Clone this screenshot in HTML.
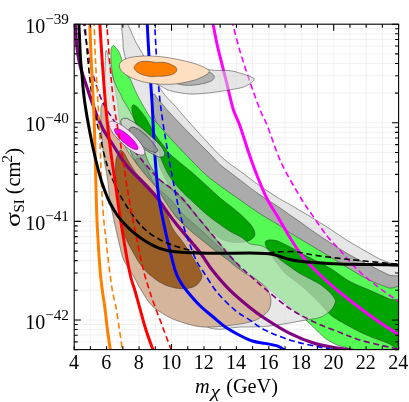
<!DOCTYPE html><html><head><meta charset="utf-8"><style>html,body{margin:0;padding:0;background:#fff}svg{display:block}text{font-family:"Liberation Serif",serif;fill:#000}</style></head><body>
<svg width="409" height="402" viewBox="0 0 409 402">
<rect width="409" height="402" fill="#fff"/>
<defs><clipPath id="c"><rect x="74.20" y="24.20" width="324.40" height="325.40"/></clipPath></defs>
<path d="M90.42,24.20 V349.60 M106.64,24.20 V349.60 M122.86,24.20 V349.60 M139.08,24.20 V349.60 M155.30,24.20 V349.60 M171.52,24.20 V349.60 M187.74,24.20 V349.60 M203.96,24.20 V349.60 M220.18,24.20 V349.60 M236.40,24.20 V349.60 M252.62,24.20 V349.60 M268.84,24.20 V349.60 M285.06,24.20 V349.60 M301.28,24.20 V349.60 M317.50,24.20 V349.60 M333.72,24.20 V349.60 M349.94,24.20 V349.60 M366.16,24.20 V349.60 M382.38,24.20 V349.60 M74.20,122.80 H398.60 M74.20,93.12 H398.60 M74.20,75.76 H398.60 M74.20,63.44 H398.60 M74.20,53.88 H398.60 M74.20,46.07 H398.60 M74.20,39.47 H398.60 M74.20,33.76 H398.60 M74.20,28.71 H398.60 M74.20,221.40 H398.60 M74.20,191.72 H398.60 M74.20,174.36 H398.60 M74.20,162.04 H398.60 M74.20,152.48 H398.60 M74.20,144.67 H398.60 M74.20,138.07 H398.60 M74.20,132.36 H398.60 M74.20,127.31 H398.60 M74.20,320.00 H398.60 M74.20,290.32 H398.60 M74.20,272.96 H398.60 M74.20,260.64 H398.60 M74.20,251.08 H398.60 M74.20,243.27 H398.60 M74.20,236.67 H398.60 M74.20,230.96 H398.60 M74.20,225.91 H398.60 M74.20,341.87 H398.60 M74.20,335.27 H398.60 M74.20,329.56 H398.60 M74.20,324.51 H398.60" stroke="#eeeeee" stroke-width="0.8" fill="none"/>
<g clip-path="url(#c)">
<path d="M121.50,18.00 C122.27,15.33 125.12,20.00 127.50,24.00 C129.88,28.00 133.08,36.67 135.80,42.00 C138.52,47.33 141.27,51.00 143.80,56.00 C146.33,61.00 148.57,67.10 151.00,72.00 C153.43,76.90 156.08,81.57 158.40,85.40 C160.72,89.23 161.98,91.42 164.90,95.00 C167.82,98.58 171.75,102.25 175.90,106.90 C180.05,111.55 184.17,116.58 189.80,122.90 C195.43,129.22 204.67,139.37 209.70,144.80 C214.73,150.23 216.68,152.35 220.00,155.50 C223.32,158.65 226.28,161.13 229.60,163.70 C232.92,166.27 234.87,167.22 239.90,170.90 C244.93,174.58 253.17,181.15 259.80,185.80 C266.43,190.45 274.67,195.68 279.70,198.80 C284.73,201.92 286.68,202.58 290.00,204.50 C293.32,206.42 296.28,208.33 299.60,210.30 C302.92,212.27 304.87,213.22 309.90,216.30 C314.93,219.38 323.62,224.80 329.80,228.80 C335.98,232.80 340.50,236.27 347.00,240.30 C353.50,244.33 363.35,249.88 368.80,253.00 C374.25,256.12 376.38,257.42 379.70,259.00 C383.02,260.58 385.53,261.42 388.70,262.50 C391.87,263.58 395.98,264.75 398.70,265.50 C401.42,266.25 403.95,257.92 405.00,267.00 C406.05,276.08 422.50,316.17 405.00,320.00 C387.50,323.83 334.17,310.00 300.00,290.00 C265.83,270.00 226.67,230.00 200.00,200.00 C173.33,170.00 152.52,134.00 140.00,110.00 C127.48,86.00 127.75,67.67 124.90,56.00 C122.05,44.33 123.47,46.33 122.90,40.00 C122.33,33.67 120.73,20.67 121.50,18.00Z" fill="#e6e6e6" stroke="#333" stroke-width="0.5"/>
<path d="M153.50,94.00 C154.33,92.83 155.60,96.42 157.00,98.00 C158.40,99.58 159.75,101.02 161.90,103.50 C164.05,105.98 165.25,107.85 169.90,112.90 C174.55,117.95 183.17,127.00 189.80,133.80 C196.43,140.60 204.67,148.58 209.70,153.70 C214.73,158.82 216.68,161.45 220.00,164.50 C223.32,167.55 226.28,169.43 229.60,172.00 C232.92,174.57 234.87,176.10 239.90,179.90 C244.93,183.70 253.17,190.17 259.80,194.80 C266.43,199.43 274.67,204.33 279.70,207.70 C284.73,211.07 286.68,212.70 290.00,215.00 C293.32,217.30 296.28,219.17 299.60,221.50 C302.92,223.83 304.87,225.50 309.90,229.00 C314.93,232.50 323.28,238.25 329.80,242.50 C336.32,246.75 342.47,250.75 349.00,254.50 C355.53,258.25 362.38,261.62 369.00,265.00 C375.62,268.38 382.70,272.05 388.70,274.80 C394.70,277.55 402.28,272.30 405.00,281.50 C407.72,290.70 422.50,326.92 405.00,330.00 C387.50,333.08 334.17,321.67 300.00,300.00 C265.83,278.33 223.33,228.33 200.00,200.00 C176.67,171.67 168.00,145.83 160.00,130.00 C152.00,114.17 153.08,111.00 152.00,105.00 C150.92,99.00 152.67,95.17 153.50,94.00Z" fill="#ababab" stroke="#333" stroke-width="0.5"/>
<path d="M112.90,45.50 C113.75,44.87 114.83,46.62 116.00,48.00 C117.17,49.38 118.25,49.52 119.90,53.80 C121.55,58.08 124.22,69.58 125.90,73.70 C127.58,77.82 128.52,75.83 130.00,78.50 C131.48,81.17 133.17,86.18 134.80,89.70 C136.43,93.22 137.27,95.05 139.80,99.60 C142.33,104.15 147.30,113.27 150.00,117.00 C152.70,120.73 152.68,118.53 156.00,122.00 C159.32,125.47 164.27,131.68 169.90,137.80 C175.53,143.92 183.83,152.57 189.80,158.70 C195.77,164.83 200.67,170.08 205.70,174.60 C210.73,179.12 214.30,181.60 220.00,185.80 C225.70,190.00 233.27,195.15 239.90,199.80 C246.53,204.45 253.17,209.40 259.80,213.70 C266.43,218.00 274.67,222.42 279.70,225.60 C284.73,228.78 284.97,229.60 290.00,232.80 C295.03,236.00 303.27,240.82 309.90,244.80 C316.53,248.78 323.23,252.72 329.80,256.70 C336.37,260.68 342.80,264.85 349.30,268.70 C355.80,272.55 362.23,276.62 368.80,279.80 C375.37,282.98 382.67,285.68 388.70,287.80 C394.73,289.92 402.28,280.47 405.00,292.50 C407.72,304.53 410.83,349.08 405.00,360.00 C399.17,370.92 379.50,359.95 370.00,358.00 C360.50,356.05 353.52,350.48 348.00,348.30 C342.48,346.12 340.62,346.50 336.90,344.90 C333.18,343.30 328.68,340.75 325.70,338.70 C322.72,336.65 322.28,335.70 319.00,332.60 C315.72,329.50 310.00,323.65 306.00,320.10 C302.00,316.55 300.50,315.88 295.00,311.30 C289.50,306.72 279.97,298.35 273.00,292.60 C266.03,286.85 259.53,281.23 253.20,276.80 C246.87,272.37 242.20,270.13 235.00,266.00 C227.80,261.87 219.17,258.83 210.00,252.00 C200.83,245.17 190.00,235.33 180.00,225.00 C170.00,214.67 159.17,202.50 150.00,190.00 C140.83,177.50 130.52,165.07 125.00,150.00 C119.48,134.93 119.08,112.97 116.90,99.60 C114.72,86.23 112.90,77.77 111.90,69.80 C110.90,61.83 110.73,55.85 110.90,51.80 C111.07,47.75 112.05,46.13 112.90,45.50Z" fill="#55fa55" stroke="#333" stroke-width="0.5"/>
<path d="M132.70,105.20 C133.22,104.45 134.13,105.08 135.00,105.50 C135.87,105.92 136.17,105.72 137.90,107.70 C139.63,109.68 143.17,114.05 145.40,117.40 C147.63,120.75 149.57,124.82 151.30,127.80 C153.03,130.78 153.55,132.07 155.80,135.30 C158.05,138.53 162.32,143.97 164.80,147.20 C167.28,150.43 166.53,150.80 170.70,154.70 C174.87,158.60 185.28,166.78 189.80,170.60 C194.32,174.42 192.77,173.07 197.80,177.60 C202.83,182.13 214.63,193.12 220.00,197.80 C225.37,202.48 226.68,203.05 230.00,205.70 C233.32,208.35 236.58,210.72 239.90,213.70 C243.22,216.68 247.58,220.95 249.90,223.60 C252.22,226.25 252.97,227.78 253.80,229.60 C254.63,231.42 255.03,233.10 254.90,234.50 C254.77,235.90 254.32,236.83 253.00,238.00 C251.68,239.17 250.03,240.75 247.00,241.50 C243.97,242.25 239.15,242.93 234.80,242.50 C230.45,242.07 225.03,240.98 220.90,238.90 C216.77,236.82 213.52,233.15 210.00,230.00 C206.48,226.85 202.32,222.67 199.80,220.00 C197.28,217.33 197.80,217.08 194.90,214.00 C192.00,210.92 186.22,205.33 182.40,201.50 C178.58,197.67 174.73,194.58 172.00,191.00 C169.27,187.42 168.00,183.83 166.00,180.00 C164.00,176.17 161.83,172.67 160.00,168.00 C158.17,163.33 157.00,156.67 155.00,152.00 C153.00,147.33 150.50,143.50 148.00,140.00 C145.50,136.50 142.18,134.27 140.00,131.00 C137.82,127.73 136.25,123.90 134.90,120.40 C133.55,116.90 132.27,112.53 131.90,110.00 C131.53,107.47 132.18,105.95 132.70,105.20Z" fill="#00a500" stroke="#333" stroke-width="0.5"/>
<path d="M265.20,242.60 C265.32,240.93 267.10,240.38 268.70,240.00 C270.30,239.62 272.73,239.90 274.80,240.30 C276.87,240.70 277.98,241.00 281.10,242.40 C284.22,243.80 289.58,246.60 293.50,248.70 C297.42,250.80 298.55,251.78 304.60,255.00 C310.65,258.22 322.42,263.67 329.80,268.00 C337.18,272.33 342.40,277.37 348.90,281.00 C355.40,284.63 362.17,286.85 368.80,289.80 C375.43,292.75 382.67,296.17 388.70,298.70 C394.73,301.23 402.28,296.78 405.00,305.00 C407.72,313.22 408.13,341.75 405.00,348.00 C401.87,354.25 393.07,344.87 386.20,342.50 C379.33,340.13 371.27,337.22 363.80,333.80 C356.33,330.38 347.00,325.22 341.40,322.00 C335.80,318.78 333.93,317.77 330.20,314.50 C326.47,311.23 323.27,306.72 319.00,302.40 C314.73,298.08 308.65,292.22 304.60,288.60 C300.55,284.98 298.02,283.35 294.70,280.70 C291.38,278.05 287.82,275.82 284.70,272.70 C281.58,269.58 278.78,265.78 276.00,262.00 C273.22,258.22 269.80,253.23 268.00,250.00 C266.20,246.77 265.08,244.27 265.20,242.60Z" fill="#00a500" stroke="#333" stroke-width="0.5"/>
<path d="M106.00,50.50 C106.67,48.87 107.92,55.75 109.00,60.00 C110.08,64.25 111.08,71.23 112.50,76.00 C113.92,80.77 116.08,85.43 117.50,88.60 C118.92,91.77 120.08,93.10 121.00,95.00 C121.92,96.90 121.92,98.00 123.00,100.00 C124.08,102.00 126.00,104.50 127.50,107.00 C129.00,109.50 130.58,112.17 132.00,115.00 C133.42,117.83 134.33,121.00 136.00,124.00 C137.67,127.00 139.67,130.67 142.00,133.00 C144.33,135.33 147.60,136.50 150.00,138.00 C152.40,139.50 154.73,139.00 156.40,142.00 C158.07,145.00 158.32,151.17 160.00,156.00 C161.68,160.83 164.42,166.92 166.50,171.00 C168.58,175.08 170.08,177.25 172.50,180.50 C174.92,183.75 177.42,186.75 181.00,190.50 C184.58,194.25 189.62,198.92 194.00,203.00 C198.38,207.08 203.00,211.45 207.30,215.00 C211.60,218.55 216.05,221.60 219.80,224.30 C223.55,227.00 226.30,229.08 229.80,231.20 C233.30,233.32 238.18,235.45 240.80,237.00 C243.42,238.55 243.97,239.37 245.50,240.50 C247.03,241.63 247.58,242.97 250.00,243.80 C252.42,244.63 257.33,244.80 260.00,245.50 C262.67,246.20 263.93,246.75 266.00,248.00 C268.07,249.25 269.88,250.92 272.40,253.00 C274.92,255.08 278.00,258.08 281.10,260.50 C284.20,262.92 287.88,265.33 291.00,267.50 C294.12,269.67 297.07,271.83 299.80,273.50 C302.53,275.17 304.05,275.70 307.40,277.50 C310.75,279.30 316.17,281.82 319.90,284.30 C323.63,286.78 327.48,290.20 329.80,292.40 C332.12,294.60 332.87,296.07 333.80,297.50 C334.73,298.93 335.53,299.33 335.40,301.00 C335.27,302.67 334.40,305.42 333.00,307.50 C331.60,309.58 329.33,311.78 327.00,313.50 C324.67,315.22 322.50,316.72 319.00,317.80 C315.50,318.88 311.83,318.98 306.00,320.00 C300.17,321.02 291.33,322.78 284.00,323.90 C276.67,325.02 269.33,326.18 262.00,326.70 C254.67,327.22 247.83,326.62 240.00,327.00 C232.17,327.38 221.67,330.17 215.00,329.00 C208.33,327.83 207.50,328.17 200.00,320.00 C192.50,311.83 180.00,293.33 170.00,280.00 C160.00,266.67 148.33,253.33 140.00,240.00 C131.67,226.67 125.33,215.00 120.00,200.00 C114.67,185.00 110.58,166.67 108.00,150.00 C105.42,133.33 105.00,113.37 104.50,100.00 C104.00,86.63 104.75,78.05 105.00,69.80 C105.25,61.55 105.33,52.13 106.00,50.50Z" fill="#dcdcdc" stroke="#333" stroke-width="0.5" fill-opacity="0.65"/>
<path d="M140.00,146.00 C142.28,146.00 142.27,147.27 143.70,150.00 C145.13,152.73 146.55,158.25 148.60,162.40 C150.65,166.55 154.10,171.97 156.00,174.90 C157.90,177.83 156.02,176.50 160.00,180.00 C163.98,183.50 173.27,189.27 179.90,195.90 C186.53,202.53 193.17,211.83 199.80,219.80 C206.43,227.77 214.73,237.73 219.70,243.70 C224.67,249.67 226.22,251.72 229.60,255.60 C232.98,259.48 237.18,263.85 240.00,267.00 C242.82,270.15 247.37,274.00 246.50,274.50 C245.63,275.00 240.07,273.08 234.80,270.00 C229.53,266.92 221.53,261.67 214.90,256.00 C208.27,250.33 202.48,243.67 195.00,236.00 C187.52,228.33 177.50,218.50 170.00,210.00 C162.50,201.50 156.67,195.00 150.00,185.00 C143.33,175.00 131.67,156.50 130.00,150.00 C128.33,143.50 137.72,146.00 140.00,146.00Z" fill="#606060" stroke="#333" stroke-width="0.5" fill-opacity="0.4"/>
<path d="M138.00,158.00 C139.50,158.00 142.17,160.58 145.00,165.00 C147.83,169.42 150.83,178.83 155.00,184.50 C159.17,190.17 165.22,193.92 170.00,199.00 C174.78,204.08 179.97,211.08 183.70,215.00 C187.43,218.92 188.87,219.38 192.40,222.50 C195.93,225.62 200.75,229.87 204.90,233.70 C209.05,237.53 213.15,241.78 217.30,245.50 C221.45,249.22 226.02,252.25 229.80,256.00 C233.58,259.75 239.97,266.33 240.00,268.00 C240.03,269.67 234.17,268.00 230.00,266.00 C225.83,264.00 220.00,259.33 215.00,256.00 C210.00,252.67 205.00,250.00 200.00,246.00 C195.00,242.00 190.00,237.50 185.00,232.00 C180.00,226.50 175.83,220.33 170.00,213.00 C164.17,205.67 155.67,196.00 150.00,188.00 C144.33,180.00 138.00,170.00 136.00,165.00 C134.00,160.00 136.50,158.00 138.00,158.00Z" fill="#505050" stroke="#333" stroke-width="0.3" fill-opacity="0.25"/>
<path d="M103.00,103.00 C103.67,102.33 104.42,102.00 105.00,104.00 C105.58,106.00 106.00,111.67 106.50,115.00 C107.00,118.33 107.08,121.83 108.00,124.00 C108.92,126.17 110.00,126.00 112.00,128.00 C114.00,130.00 117.50,132.33 120.00,136.00 C122.50,139.67 125.17,146.67 127.00,150.00 C128.83,153.33 129.57,153.93 131.00,156.00 C132.43,158.07 133.18,159.25 135.60,162.40 C138.02,165.55 142.08,170.75 145.50,174.90 C148.92,179.05 153.18,183.45 156.10,187.30 C159.02,191.15 160.68,194.47 163.00,198.00 C165.32,201.53 168.00,205.58 170.00,208.50 C172.00,211.42 173.33,213.42 175.00,215.50 C176.67,217.58 177.10,218.18 180.00,221.00 C182.90,223.82 188.25,228.83 192.40,232.40 C196.55,235.97 200.75,239.08 204.90,242.40 C209.05,245.72 213.78,249.62 217.30,252.30 C220.82,254.98 223.08,256.27 226.00,258.50 C228.92,260.73 231.52,263.17 234.80,265.70 C238.08,268.23 242.63,271.78 245.70,273.70 C248.77,275.62 249.75,274.78 253.20,277.20 C256.65,279.62 263.47,284.53 266.40,288.20 C269.33,291.87 270.43,295.53 270.80,299.20 C271.17,302.87 270.43,307.08 268.60,310.20 C266.77,313.32 263.10,315.88 259.80,317.90 C256.50,319.92 254.67,320.95 248.80,322.30 C242.93,323.65 232.77,325.27 224.60,326.00 C216.43,326.73 208.08,327.73 199.80,326.70 C191.52,325.67 181.62,322.33 174.90,319.80 C168.18,317.27 163.72,314.30 159.50,311.50 C155.28,308.70 152.92,307.00 149.60,303.00 C146.28,299.00 142.57,292.50 139.60,287.50 C136.63,282.50 134.45,277.58 131.80,273.00 C129.15,268.42 125.70,264.50 123.70,260.00 C121.70,255.50 121.28,252.00 119.80,246.00 C118.32,240.00 116.47,231.67 114.80,224.00 C113.13,216.33 110.97,207.33 109.80,200.00 C108.63,192.67 108.60,185.83 107.80,180.00 C107.00,174.17 105.80,170.00 105.00,165.00 C104.20,160.00 103.67,156.67 103.00,150.00 C102.33,143.33 101.33,132.00 101.00,125.00 C100.67,118.00 100.67,111.67 101.00,108.00 C101.33,104.33 102.33,103.67 103.00,103.00Z" fill="#d5b59b" stroke="#333" stroke-width="0.5"/>
<path d="M121.00,150.30 C121.83,150.55 122.67,151.05 124.00,153.00 C125.33,154.95 127.33,159.17 129.00,162.00 C130.67,164.83 132.60,167.95 134.00,170.00 C135.40,172.05 134.75,171.42 137.40,174.30 C140.05,177.18 146.17,183.05 149.90,187.30 C153.63,191.55 157.12,195.85 159.80,199.80 C162.48,203.75 163.90,206.30 166.00,211.00 C168.10,215.70 169.60,222.85 172.40,228.00 C175.20,233.15 179.32,236.83 182.80,241.90 C186.28,246.97 190.32,253.42 193.30,258.40 C196.28,263.38 199.30,268.53 200.70,271.80 C202.10,275.07 202.43,275.77 201.70,278.00 C200.97,280.23 198.70,283.45 196.30,285.20 C193.90,286.95 190.88,288.05 187.30,288.50 C183.72,288.95 178.97,288.72 174.80,287.90 C170.63,287.08 166.45,285.77 162.30,283.60 C158.15,281.43 153.00,277.38 149.90,274.90 C146.80,272.42 145.78,271.18 143.70,268.70 C141.62,266.22 139.38,263.12 137.40,260.00 C135.42,256.88 133.62,253.33 131.80,250.00 C129.98,246.67 128.02,243.37 126.50,240.00 C124.98,236.63 123.87,233.98 122.70,229.80 C121.53,225.62 120.45,220.70 119.50,214.90 C118.55,209.10 117.67,202.48 117.00,195.00 C116.33,187.52 115.67,175.83 115.50,170.00 C115.33,164.17 115.67,162.50 116.00,160.00 C116.33,157.50 117.00,156.42 117.50,155.00 C118.00,153.58 118.42,152.28 119.00,151.50 C119.58,150.72 120.17,150.05 121.00,150.30Z" fill="#9b5f28" stroke="#333" stroke-width="0.5"/>
<path d="M83.00,20.00 C83.67,24.17 85.45,36.30 87.00,45.00 C88.55,53.70 89.72,62.70 92.30,72.20 C94.88,81.70 98.97,94.05 102.50,102.00 C106.03,109.95 109.75,113.90 113.50,119.90 C117.25,125.90 120.65,131.78 125.00,138.00 C129.35,144.22 134.68,151.10 139.60,157.20 C144.52,163.30 151.10,170.80 154.50,174.60 C157.90,178.40 155.77,176.45 160.00,180.00 C164.23,183.55 173.27,189.27 179.90,195.90 C186.53,202.53 193.17,211.83 199.80,219.80 C206.43,227.77 214.73,237.73 219.70,243.70 C224.67,249.67 225.47,251.13 229.60,255.60 C233.73,260.07 238.62,264.98 244.50,270.50 C250.38,276.02 257.35,282.35 264.90,288.70 C272.45,295.05 281.52,303.02 289.80,308.60 C298.08,314.18 306.32,318.27 314.60,322.20 C322.88,326.13 332.13,329.28 339.50,332.20 C346.87,335.12 351.45,337.42 358.80,339.70 C366.15,341.98 376.40,344.22 383.60,345.90 C390.80,347.58 398.93,349.15 402.00,349.80" fill="none" stroke="#800080" stroke-width="1.6" stroke-linejoin="round" stroke-dasharray="6 3.5"/>
<path d="M75.00,20.00 C75.22,23.33 75.80,34.17 76.30,40.00 C76.80,45.83 77.30,50.50 78.00,55.00 C78.70,59.50 79.58,63.33 80.50,67.00 C81.42,70.67 82.38,73.50 83.50,77.00 C84.62,80.50 85.98,84.33 87.20,88.00 C88.42,91.67 89.58,95.50 90.80,99.00 C92.02,102.50 93.37,105.93 94.50,109.00 C95.63,112.07 96.10,113.90 97.60,117.40 C99.10,120.90 100.93,125.40 103.50,130.00 C106.07,134.60 110.25,140.67 113.00,145.00 C115.75,149.33 118.00,152.92 120.00,156.00 C122.00,159.08 123.17,161.08 125.00,163.50 C126.83,165.92 128.93,168.25 131.00,170.50 C133.07,172.75 134.25,173.78 137.40,177.00 C140.55,180.22 146.37,186.00 149.90,189.80 C153.43,193.60 154.43,194.38 158.60,199.80 C162.77,205.22 168.03,213.57 174.90,222.30 C181.77,231.03 193.58,244.25 199.80,252.20 C206.02,260.15 207.23,263.72 212.20,270.00 C217.17,276.28 223.38,283.68 229.60,289.90 C235.82,296.12 243.62,302.53 249.50,307.30 C255.38,312.07 258.18,314.15 264.90,318.50 C271.62,322.85 281.52,329.25 289.80,333.40 C298.08,337.55 306.32,340.90 314.60,343.40 C322.88,345.90 331.93,347.05 339.50,348.40 C347.07,349.75 356.58,350.98 360.00,351.50" fill="none" stroke="#800080" stroke-width="3.2" stroke-linejoin="round"/>
<path d="M154.50,20.00 C154.92,27.50 156.00,50.83 157.00,65.00 C158.00,79.17 158.77,90.87 160.50,105.00 C162.23,119.13 164.90,135.13 167.40,149.80 C169.90,164.47 173.02,180.92 175.50,193.00 C177.98,205.08 179.08,211.60 182.30,222.30 C185.52,233.00 191.27,248.92 194.80,257.20 C198.33,265.48 199.77,266.13 203.50,272.00 C207.23,277.87 212.02,286.10 217.20,292.40 C222.38,298.70 229.22,305.23 234.60,309.80 C239.98,314.37 244.45,316.43 249.50,319.80 C254.55,323.17 258.18,326.63 264.90,330.00 C271.62,333.37 281.52,337.33 289.80,340.00 C298.08,342.67 306.23,344.17 314.60,346.00 C322.97,347.83 335.77,350.17 340.00,351.00" fill="none" stroke="#0000ff" stroke-width="1.6" stroke-linejoin="round" stroke-dasharray="6 3.5"/>
<path d="M147.00,20.00 C147.42,27.50 148.63,50.83 149.50,65.00 C150.37,79.17 151.37,90.83 152.20,105.00 C153.03,119.17 153.45,135.00 154.50,150.00 C155.55,165.00 157.08,183.33 158.50,195.00 C159.92,206.67 161.52,212.53 163.00,220.00 C164.48,227.47 165.42,231.53 167.40,239.80 C169.38,248.07 172.72,262.57 174.90,269.60 C177.08,276.63 178.43,278.35 180.50,282.00 C182.57,285.65 184.08,287.58 187.30,291.50 C190.52,295.42 195.68,301.42 199.80,305.50 C203.92,309.58 207.87,312.50 212.00,316.00 C216.13,319.50 219.93,323.25 224.60,326.50 C229.27,329.75 235.37,333.08 240.00,335.50 C244.63,337.92 248.25,339.68 252.40,341.00 C256.55,342.32 260.75,342.58 264.90,343.40 C269.05,344.22 273.78,344.63 277.30,345.90 C280.82,347.17 284.55,350.15 286.00,351.00" fill="none" stroke="#0000ff" stroke-width="3.0" stroke-linejoin="round"/>
<path d="M231.80,20.00 C233.10,24.97 236.65,39.72 239.60,49.80 C242.55,59.88 246.12,70.55 249.50,80.50 C252.88,90.45 256.92,101.92 259.90,109.50 C262.88,117.08 263.88,117.22 267.40,126.00 C270.92,134.78 275.73,150.70 281.00,162.20 C286.27,173.70 293.82,186.22 299.00,195.00 C304.18,203.78 307.42,208.07 312.10,214.90 C316.78,221.73 322.53,230.20 327.10,236.00 C331.67,241.80 334.22,243.87 339.50,249.70 C344.78,255.53 351.45,264.10 358.80,271.00 C366.15,277.90 376.40,285.68 383.60,291.10 C390.80,296.52 398.93,301.43 402.00,303.50" fill="none" stroke="#ff00ff" stroke-width="1.6" stroke-linejoin="round" stroke-dasharray="6 3.5"/>
<path d="M212.30,20.00 C213.08,24.00 215.37,36.55 217.00,44.00 C218.63,51.45 220.42,57.93 222.10,64.70 C223.78,71.47 225.23,77.13 227.10,84.60 C228.97,92.07 231.15,102.60 233.30,109.50 C235.45,116.40 237.30,118.42 240.00,126.00 C242.70,133.58 246.50,146.33 249.50,155.00 C252.50,163.67 255.02,170.58 258.00,178.00 C260.98,185.42 264.18,193.17 267.40,199.50 C270.62,205.83 273.57,209.70 277.30,216.00 C281.03,222.30 285.65,230.65 289.80,237.30 C293.95,243.95 297.83,250.28 302.20,255.90 C306.57,261.52 310.72,265.75 316.00,271.00 C321.28,276.25 326.77,281.35 333.90,287.40 C341.03,293.45 350.52,301.03 358.80,307.30 C367.08,313.57 376.40,320.13 383.60,325.00 C390.80,329.87 398.93,334.58 402.00,336.50" fill="none" stroke="#ff00ff" stroke-width="3.0" stroke-linejoin="round"/>
<path d="M135.00,70.00 C135.83,67.67 143.33,65.17 150.00,64.00 C156.67,62.83 165.25,62.05 175.00,63.00 C184.75,63.95 199.33,68.42 208.50,69.70 C217.67,70.98 224.42,70.03 230.00,70.70 C235.58,71.37 238.67,72.73 242.00,73.70 C245.33,74.67 247.95,75.57 250.00,76.50 C252.05,77.43 254.30,78.10 254.30,79.30 C254.30,80.50 252.05,82.33 250.00,83.70 C247.95,85.07 245.33,86.48 242.00,87.50 C238.67,88.52 235.38,88.92 230.00,89.80 C224.62,90.68 216.40,92.10 209.70,92.80 C203.00,93.50 196.43,94.37 189.80,94.00 C183.17,93.63 174.87,91.98 169.90,90.60 C164.93,89.22 164.15,87.80 160.00,85.70 C155.85,83.60 149.17,80.62 145.00,78.00 C140.83,75.38 134.17,72.33 135.00,70.00Z" fill="#d0d0d0" stroke="#333" stroke-width="0.5" fill-opacity="0.55"/>
<path d="M150.00,72.00 C151.67,70.17 162.50,68.50 170.00,68.00 C177.50,67.50 188.33,68.25 195.00,69.00 C201.67,69.75 206.78,71.13 210.00,72.50 C213.22,73.87 214.35,75.67 214.30,77.20 C214.25,78.73 212.78,80.42 209.70,81.70 C206.62,82.98 199.92,84.32 195.80,84.90 C191.68,85.48 187.98,85.37 185.00,85.20 C182.02,85.03 182.07,84.93 177.90,83.90 C173.73,82.87 164.65,80.98 160.00,79.00 C155.35,77.02 148.33,73.83 150.00,72.00Z" fill="#808080" stroke="#333" stroke-width="0.5" fill-opacity="0.5"/>
<path d="M119.30,66.00 C119.13,64.08 120.22,62.42 122.00,61.00 C123.78,59.58 127.03,58.28 130.00,57.50 C132.97,56.72 136.47,56.55 139.80,56.30 C143.13,56.05 145.80,55.85 150.00,56.00 C154.20,56.15 159.17,56.37 165.00,57.20 C170.83,58.03 179.17,59.62 185.00,61.00 C190.83,62.38 196.05,63.95 200.00,65.50 C203.95,67.05 207.37,68.97 208.70,70.30 C210.03,71.63 209.45,72.22 208.00,73.50 C206.55,74.78 203.00,76.70 200.00,78.00 C197.00,79.30 194.17,80.30 190.00,81.30 C185.83,82.30 180.00,83.52 175.00,84.00 C170.00,84.48 165.00,84.48 160.00,84.20 C155.00,83.92 149.67,83.33 145.00,82.30 C140.33,81.27 135.67,79.63 132.00,78.00 C128.33,76.37 125.12,74.50 123.00,72.50 C120.88,70.50 119.47,67.92 119.30,66.00Z" fill="#ffdfc2" stroke="#333" stroke-width="0.5"/>
<path d="M134.00,67.80 C133.83,66.30 135.50,64.58 137.00,63.50 C138.50,62.42 140.83,61.63 143.00,61.30 C145.17,60.97 147.83,61.30 150.00,61.50 C152.17,61.70 153.83,62.37 156.00,62.50 C158.17,62.63 160.67,62.05 163.00,62.30 C165.33,62.55 167.83,63.13 170.00,64.00 C172.17,64.87 174.95,66.25 176.00,67.50 C177.05,68.75 176.97,70.33 176.30,71.50 C175.63,72.67 173.88,73.75 172.00,74.50 C170.12,75.25 167.50,75.70 165.00,76.00 C162.50,76.30 159.22,76.18 157.00,76.30 C154.78,76.42 153.70,76.83 151.70,76.70 C149.70,76.57 147.28,76.20 145.00,75.50 C142.72,74.80 139.83,73.78 138.00,72.50 C136.17,71.22 134.17,69.30 134.00,67.80Z" fill="#ff8000" stroke="#333" stroke-width="0.5"/>
<path d="M121.90,119.00 C122.73,118.38 124.45,118.08 125.70,118.20 C126.95,118.32 127.03,118.33 129.40,119.70 C131.77,121.07 136.17,123.53 139.90,126.40 C143.63,129.27 148.33,133.67 151.80,136.90 C155.27,140.13 158.58,143.20 160.70,145.80 C162.82,148.40 164.00,150.75 164.50,152.50 C165.00,154.25 164.57,155.55 163.70,156.30 C162.83,157.05 160.78,157.20 159.30,157.00 C157.82,156.80 157.30,156.42 154.80,155.10 C152.30,153.78 148.03,151.63 144.30,149.10 C140.57,146.57 135.63,142.68 132.40,139.90 C129.17,137.12 126.65,134.65 124.90,132.40 C123.15,130.15 122.60,128.15 121.90,126.40 C121.20,124.65 120.70,123.13 120.70,121.90 C120.70,120.67 121.07,119.62 121.90,119.00Z" fill="#cccccc" stroke="#333" stroke-width="0.7" fill-opacity="0.78"/>
<path d="M129.40,128.70 C130.15,128.08 131.67,126.58 133.90,127.20 C136.13,127.82 139.82,130.05 142.80,132.40 C145.78,134.75 149.43,138.57 151.80,141.30 C154.17,144.03 156.05,147.18 157.00,148.80 C157.95,150.42 157.87,150.38 157.50,151.00 C157.13,151.62 156.50,152.73 154.80,152.50 C153.10,152.27 150.03,151.22 147.30,149.60 C144.57,147.98 140.88,145.05 138.40,142.80 C135.92,140.55 133.90,138.08 132.40,136.10 C130.90,134.12 129.90,132.13 129.40,130.90 C128.90,129.67 128.65,129.32 129.40,128.70Z" fill="#808080" stroke="#333" stroke-width="0.7" fill-opacity="0.7"/>
<ellipse cx="0" cy="0" rx="23.8" ry="7" transform="translate(126.85,138.2) rotate(43)" fill="#fbdcfb" stroke="#333" stroke-width="0.5"/>
<ellipse cx="0" cy="0" rx="15.3" ry="4.3" transform="translate(126.2,139) rotate(41.5)" fill="#ff00ff" stroke="#333" stroke-width="0.5"/>
<path d="M84.60,20.00 C85.00,25.00 86.10,40.00 87.00,50.00 C87.90,60.00 88.90,70.50 90.00,80.00 C91.10,89.50 92.35,99.50 93.60,107.00 C94.85,114.50 96.35,120.33 97.50,125.00 C98.65,129.67 99.75,131.67 100.50,135.00 C101.25,138.33 101.22,141.08 102.00,145.00 C102.78,148.92 104.17,154.58 105.20,158.50 C106.23,162.42 107.07,165.25 108.20,168.50 C109.33,171.75 110.70,174.92 112.00,178.00 C113.30,181.08 114.58,184.00 116.00,187.00 C117.42,190.00 118.63,192.67 120.50,196.00 C122.37,199.33 124.95,203.50 127.20,207.00 C129.45,210.50 131.52,213.75 134.00,217.00 C136.48,220.25 139.43,223.75 142.10,226.50 C144.77,229.25 147.10,231.33 150.00,233.50 C152.90,235.67 156.67,237.92 159.50,239.50 C162.33,241.08 164.43,241.92 167.00,243.00 C169.57,244.08 171.52,244.90 174.90,246.00 C178.28,247.10 183.15,248.50 187.30,249.60 C191.45,250.70 193.58,252.03 199.80,252.60 C206.02,253.17 216.32,252.93 224.60,253.00 C232.88,253.07 242.93,252.97 249.50,253.00 C256.07,253.03 260.18,253.27 264.00,253.20 C267.82,253.13 269.55,252.83 272.40,252.60 C275.25,252.37 277.58,251.97 281.10,251.80 C284.62,251.63 290.35,251.48 293.50,251.60 C296.65,251.72 296.48,251.90 300.00,252.50 C303.52,253.10 308.02,254.22 314.60,255.20 C321.18,256.18 332.13,257.53 339.50,258.40 C346.87,259.27 351.45,259.65 358.80,260.40 C366.15,261.15 376.40,262.25 383.60,262.90 C390.80,263.55 398.93,264.07 402.00,264.30" fill="none" stroke="#000" stroke-width="1.6" stroke-linejoin="round" stroke-dasharray="6 3.5"/>
<path d="M94.00,20.00 C94.25,26.67 94.87,46.67 95.50,60.00 C96.13,73.33 97.17,89.17 97.80,100.00 C98.43,110.83 98.88,116.67 99.30,125.00 C99.72,133.33 99.85,138.33 100.30,150.00 C100.75,161.67 101.38,183.00 102.00,195.00 C102.62,207.00 103.33,214.50 104.00,222.00 C104.67,229.50 105.25,233.33 106.00,240.00 C106.75,246.67 107.47,253.75 108.50,262.00 C109.53,270.25 110.95,281.95 112.20,289.50 C113.45,297.05 114.78,300.55 116.00,307.30 C117.22,314.05 118.33,322.22 119.50,330.00 C120.67,337.78 122.42,350.00 123.00,354.00" fill="none" stroke="#ff8000" stroke-width="1.6" stroke-linejoin="round" stroke-dasharray="6 3.5"/>
<path d="M89.70,20.00 C89.95,26.67 90.62,46.67 91.20,60.00 C91.78,73.33 92.68,89.17 93.20,100.00 C93.72,110.83 94.00,116.67 94.30,125.00 C94.60,133.33 94.68,138.33 95.00,150.00 C95.32,161.67 95.82,182.17 96.20,195.00 C96.58,207.83 96.70,215.00 97.30,227.00 C97.90,239.00 99.02,256.83 99.80,267.00 C100.58,277.17 101.17,281.28 102.00,288.00 C102.83,294.72 103.88,300.30 104.80,307.30 C105.72,314.30 106.47,322.22 107.50,330.00 C108.53,337.78 110.42,350.00 111.00,354.00" fill="none" stroke="#ff8000" stroke-width="3.0" stroke-linejoin="round"/>
<path d="M106.50,20.00 C107.08,27.50 108.75,50.83 110.00,65.00 C111.25,79.17 112.08,90.87 114.00,105.00 C115.92,119.13 119.25,135.63 121.50,149.80 C123.75,163.97 125.52,177.92 127.50,190.00 C129.48,202.08 130.97,209.87 133.40,222.30 C135.83,234.73 139.62,253.82 142.10,264.60 C144.58,275.38 146.32,280.43 148.30,287.00 C150.28,293.57 152.05,298.53 154.00,304.00 C155.95,309.47 158.00,314.47 160.00,319.80 C162.00,325.13 163.87,330.30 166.00,336.00 C168.13,341.70 171.67,351.00 172.80,354.00" fill="none" stroke="#ff0000" stroke-width="1.6" stroke-linejoin="round" stroke-dasharray="6 3.5"/>
<path d="M99.60,20.00 C100.08,27.50 101.43,50.08 102.50,65.00 C103.57,79.92 104.67,95.37 106.00,109.50 C107.33,123.63 109.03,138.12 110.50,149.80 C111.97,161.48 113.80,172.57 114.80,179.60 C115.80,186.63 115.48,184.88 116.50,192.00 C117.52,199.12 119.12,211.02 120.90,222.30 C122.68,233.58 125.52,250.42 127.20,259.70 C128.88,268.98 129.77,273.03 131.00,278.00 C132.23,282.97 133.17,284.62 134.60,289.50 C136.03,294.38 137.70,300.55 139.60,307.30 C141.50,314.05 143.52,322.22 146.00,330.00 C148.48,337.78 153.08,350.00 154.50,354.00" fill="none" stroke="#ff0000" stroke-width="3.0" stroke-linejoin="round"/>
<path d="M78.70,20.00 C78.85,23.33 79.28,33.33 79.60,40.00 C79.92,46.67 80.20,54.17 80.60,60.00 C81.00,65.83 81.55,70.00 82.00,75.00 C82.45,80.00 82.80,85.17 83.30,90.00 C83.80,94.83 84.13,98.17 85.00,104.00 C85.87,109.83 87.08,117.33 88.50,125.00 C89.92,132.67 91.67,141.73 93.50,150.00 C95.33,158.27 97.67,167.93 99.50,174.60 C101.33,181.27 102.75,185.27 104.50,190.00 C106.25,194.73 107.83,198.75 110.00,203.00 C112.17,207.25 114.92,211.83 117.50,215.50 C120.08,219.17 122.65,222.03 125.50,225.00 C128.35,227.97 131.18,230.55 134.60,233.30 C138.02,236.05 141.85,239.00 146.00,241.50 C150.15,244.00 154.68,246.60 159.50,248.30 C164.32,250.00 168.18,250.92 174.90,251.70 C181.62,252.48 191.52,252.75 199.80,253.00 C208.08,253.25 216.32,253.18 224.60,253.20 C232.88,253.22 242.78,253.05 249.50,253.10 C256.22,253.15 261.10,253.28 264.90,253.50 C268.70,253.72 269.78,253.90 272.30,254.40 C274.82,254.90 277.08,255.65 280.00,256.50 C282.92,257.35 286.47,258.72 289.80,259.50 C293.13,260.28 295.87,260.68 300.00,261.20 C304.13,261.72 308.02,262.12 314.60,262.60 C321.18,263.08 332.13,263.80 339.50,264.10 C346.87,264.40 351.45,264.28 358.80,264.40 C366.15,264.52 376.40,264.67 383.60,264.80 C390.80,264.93 398.93,265.13 402.00,265.20" fill="none" stroke="#000" stroke-width="3.0" stroke-linejoin="round"/>
</g>
<rect x="74.20" y="24.20" width="324.40" height="325.40" fill="none" stroke="#000" stroke-width="1.1"/>
<path d="M74.20,349.60 v-3.30 M74.20,24.20 v3.50 M90.42,349.60 v-3.30 M90.42,24.20 v3.50 M106.64,349.60 v-3.30 M106.64,24.20 v3.50 M122.86,349.60 v-3.30 M122.86,24.20 v3.50 M139.08,349.60 v-3.30 M139.08,24.20 v3.50 M155.30,349.60 v-3.30 M155.30,24.20 v3.50 M171.52,349.60 v-5.60 M171.52,24.20 v6.60 M187.74,349.60 v-3.30 M187.74,24.20 v3.50 M203.96,349.60 v-3.30 M203.96,24.20 v3.50 M220.18,349.60 v-3.30 M220.18,24.20 v3.50 M236.40,349.60 v-3.30 M236.40,24.20 v3.50 M252.62,349.60 v-3.30 M252.62,24.20 v3.50 M268.84,349.60 v-3.30 M268.84,24.20 v3.50 M285.06,349.60 v-3.30 M285.06,24.20 v3.50 M301.28,349.60 v-3.30 M301.28,24.20 v3.50 M317.50,349.60 v-3.30 M317.50,24.20 v3.50 M333.72,349.60 v-3.30 M333.72,24.20 v6.60 M349.94,349.60 v-3.30 M349.94,24.20 v3.50 M366.16,349.60 v-3.30 M366.16,24.20 v3.50 M382.38,349.60 v-3.30 M382.38,24.20 v3.50 M398.60,349.60 v-3.30 M398.60,24.20 v3.50 M74.20,24.20 h6.60 M398.60,24.20 h-6.60 M74.20,122.80 h6.60 M398.60,122.80 h-6.60 M74.20,93.12 h3.50 M398.60,93.12 h-3.50 M74.20,75.76 h3.50 M398.60,75.76 h-3.50 M74.20,63.44 h3.50 M398.60,63.44 h-3.50 M74.20,53.88 h3.50 M398.60,53.88 h-3.50 M74.20,46.07 h3.50 M398.60,46.07 h-3.50 M74.20,39.47 h3.50 M398.60,39.47 h-3.50 M74.20,33.76 h3.50 M398.60,33.76 h-3.50 M74.20,28.71 h3.50 M398.60,28.71 h-3.50 M74.20,221.40 h6.60 M398.60,221.40 h-6.60 M74.20,191.72 h3.50 M398.60,191.72 h-3.50 M74.20,174.36 h3.50 M398.60,174.36 h-3.50 M74.20,162.04 h3.50 M398.60,162.04 h-3.50 M74.20,152.48 h3.50 M398.60,152.48 h-3.50 M74.20,144.67 h3.50 M398.60,144.67 h-3.50 M74.20,138.07 h3.50 M398.60,138.07 h-3.50 M74.20,132.36 h3.50 M398.60,132.36 h-3.50 M74.20,127.31 h3.50 M398.60,127.31 h-3.50 M74.20,320.00 h6.60 M398.60,320.00 h-6.60 M74.20,290.32 h3.50 M398.60,290.32 h-3.50 M74.20,272.96 h3.50 M398.60,272.96 h-3.50 M74.20,260.64 h3.50 M398.60,260.64 h-3.50 M74.20,251.08 h3.50 M398.60,251.08 h-3.50 M74.20,243.27 h3.50 M398.60,243.27 h-3.50 M74.20,236.67 h3.50 M398.60,236.67 h-3.50 M74.20,230.96 h3.50 M398.60,230.96 h-3.50 M74.20,225.91 h3.50 M398.60,225.91 h-3.50 M74.20,349.68 h3.50 M398.60,349.68 h-3.50 M74.20,341.87 h3.50 M398.60,341.87 h-3.50 M74.20,335.27 h3.50 M398.60,335.27 h-3.50 M74.20,329.56 h3.50 M398.60,329.56 h-3.50 M74.20,324.51 h3.50 M398.60,324.51 h-3.50" stroke="#000" stroke-width="1.1" fill="none"/>
<g style="filter:grayscale(1)">
<text x="73.90" y="369" font-size="20" text-anchor="middle">4</text>
<text x="106.34" y="369" font-size="20" text-anchor="middle">6</text>
<text x="138.78" y="369" font-size="20" text-anchor="middle">8</text>
<text x="171.22" y="369" font-size="20" text-anchor="middle">10</text>
<text x="203.66" y="369" font-size="20" text-anchor="middle">12</text>
<text x="236.10" y="369" font-size="20" text-anchor="middle">14</text>
<text x="268.54" y="369" font-size="20" text-anchor="middle">16</text>
<text x="300.98" y="369" font-size="20" text-anchor="middle">18</text>
<text x="333.42" y="369" font-size="20" text-anchor="middle">20</text>
<text x="365.86" y="369" font-size="20" text-anchor="middle">22</text>
<text x="398.30" y="369" font-size="20" text-anchor="middle">24</text>
<text x="25.2" y="32.80" font-size="20">10</text>
<text x="45.2" y="24.10" font-size="15.2">−39</text>
<text x="25.2" y="131.40" font-size="20">10</text>
<text x="45.2" y="122.70" font-size="15.2">−40</text>
<text x="25.2" y="230.00" font-size="20">10</text>
<text x="45.2" y="221.30" font-size="15.2">−41</text>
<text x="25.2" y="328.60" font-size="20">10</text>
<text x="45.2" y="319.90" font-size="15.2">−42</text>
<text x="195" y="392.8" font-size="20.3" font-style="italic">m</text>
<text transform="translate(210.8,396.8) scale(1.3,1)" font-size="16" font-style="italic">χ</text>
<text x="226.2" y="392.8" font-size="20.3">(GeV)</text>
<text transform="translate(20.3,226.9) rotate(-90) scale(1.33,1)" font-size="20.7">σ</text>
<text transform="translate(23.60,212.60) rotate(-90)" font-size="15">SI</text>
<text transform="translate(20.30,194.20) rotate(-90)" font-size="20.5">(</text>
<text transform="translate(20.30,186.50) rotate(-90)" font-size="20.5">cm</text>
<text transform="translate(12.30,162.80) rotate(-90)" font-size="15.5">2</text>
<text transform="translate(20.30,154.80) rotate(-90)" font-size="20.5">)</text>
</g>
</svg></body></html>
